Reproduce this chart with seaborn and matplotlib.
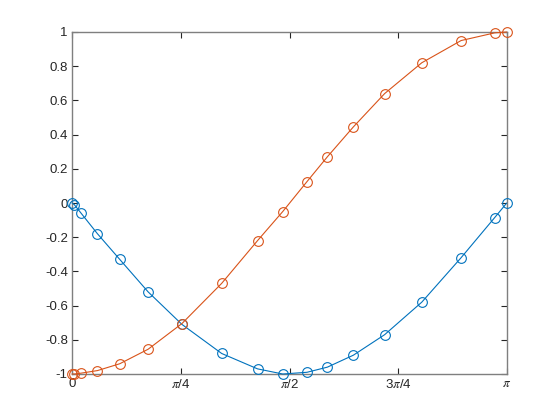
import numpy as np
import pandas as pd
import matplotlib
matplotlib.use("Agg")
import matplotlib.pyplot as plt
import seaborn as sns

# data
x_vals = [0.0, 0.017, 0.066, 0.184, 0.345, 0.550, 0.794, 1.081, 1.340, 1.522,
          1.697, 1.844, 2.032, 2.258, 2.526, 2.810, 3.053, 3.140]
blue_y = [0.0, -0.01, -0.06, -0.18, -0.33, -0.52, -0.71, -0.88, -0.97, -1.0,
          -0.99, -0.96, -0.89, -0.77, -0.58, -0.32, -0.085, 0.0]
orange_y = [-1.0, -1.0, -0.995, -0.98, -0.94, -0.855, -0.705, -0.47, -0.22, -0.05,
            0.125, 0.27, 0.445, 0.64, 0.82, 0.95, 0.995, 1.0]
xtick_pos = [0, np.pi / 4, np.pi / 2, 3 * np.pi / 4, np.pi]
xtick_labels = ["0", r"$\pi$/4", r"$\pi$/2", r"3$\pi$/4", r"$\pi$"]
ytick_pos = [-1, -0.8, -0.6, -0.4, -0.2, 0, 0.2, 0.4, 0.6, 0.8, 1]
ytick_labels = ["-1", "-0.8", "-0.6", "-0.4", "-0.2", "0", "0.2", "0.4", "0.6", "0.8", "1"]

sns.set_style("white")
plt.rcParams['font.family'] = ['Liberation Sans', 'DejaVu Sans']
plt.rcParams['mathtext.fontset'] = 'stix'
plt.rcParams['axes.unicode_minus'] = False

fig = plt.figure(figsize=(5.6, 4.2), dpi=100)
ax = fig.add_axes([72 / 560, 46 / 420, 435 / 560, 342 / 420])

df = pd.DataFrame({"x": x_vals, "blue": blue_y, "orange": orange_y})
for col, c in [("blue", "#0072BD"), ("orange", "#D95319")]:
    sns.lineplot(data=df, x="x", y=col, ax=ax, sort=False, estimator=None,
                 color=c, linewidth=0.8, marker="o", markersize=7,
                 markerfacecolor="none", markeredgecolor=c, markeredgewidth=0.8)
for ln in ax.lines:
    ln.set_clip_on(False)
    ln.set_zorder(3)

ax.set_xlim(0, np.pi)
ax.set_ylim(-1, 1)
ax.set_xticks(xtick_pos)
ax.set_xticklabels(xtick_labels)
ax.set_yticks(ytick_pos)
ax.set_yticklabels(ytick_labels)
ax.set_xlabel("")
ax.set_ylabel("")
for s in ax.spines.values():
    s.set_visible(True)
    s.set_color("#7f7f7f")
    s.set_linewidth(1.0)
    s.set_zorder(2)
ax.tick_params(direction="in", length=4, width=0.8, color="#262626",
               labelcolor="#262626", labelsize=9.5, top=True, right=True,
               bottom=True, left=True, pad=3)
fig.savefig("out.png", dpi=100, facecolor="white")
